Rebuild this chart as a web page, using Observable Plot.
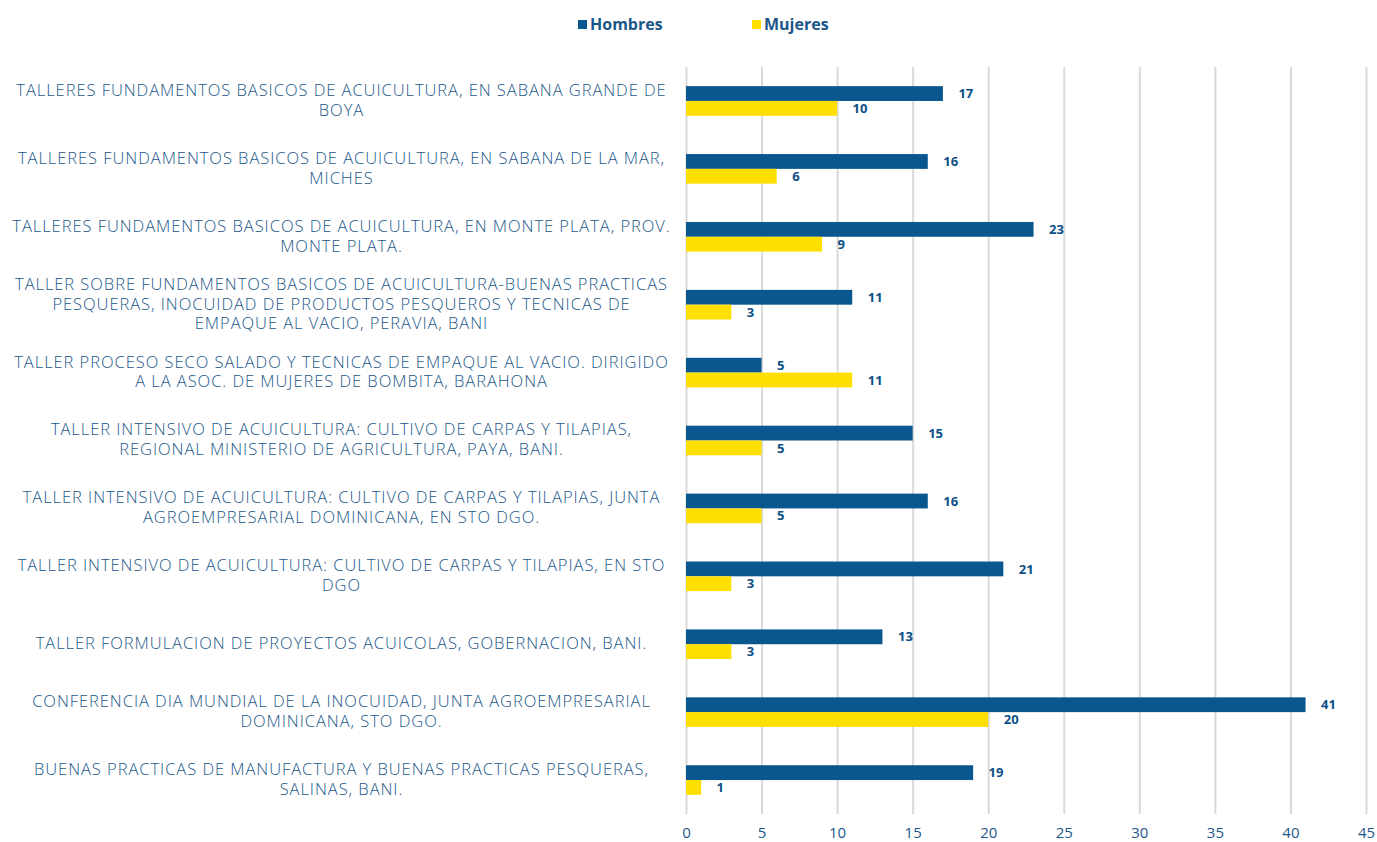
<!DOCTYPE html>
<html>
<head>
<meta charset="utf-8">
<script src="https://cdn.jsdelivr.net/npm/d3@7"></script>
<script src="https://cdn.jsdelivr.net/npm/@observablehq/plot@0.6"></script>
<style>
  html, body { margin: 0; padding: 0; background: #fff; }
  body { width: 1377px; height: 842px; overflow: hidden; font-family: "Open Sans", Lato, sans-serif; }
  #legend { position: relative; height: 45px; }
  .item { position: absolute; top: 13px; display: flex; align-items: center; font-weight: 700; font-size: 16px; color: #1b5789; white-space: nowrap; }
  .sw { width: 9px; height: 9px; margin-right: 3px; }
  #chart svg { display: block; }
</style>
</head>
<body>
<div id="legend"></div>
<div id="chart"></div>
<script>
const categories = [
  "TALLERES FUNDAMENTOS BASICOS DE ACUICULTURA, EN SABANA GRANDE DE\nBOYA",
  "TALLERES FUNDAMENTOS BASICOS DE ACUICULTURA, EN SABANA DE LA MAR,\nMICHES",
  "TALLERES FUNDAMENTOS BASICOS DE ACUICULTURA, EN MONTE PLATA, PROV.\nMONTE PLATA.",
  "TALLER SOBRE FUNDAMENTOS BASICOS DE ACUICULTURA-BUENAS PRACTICAS\nPESQUERAS, INOCUIDAD DE PRODUCTOS PESQUEROS Y TECNICAS DE\nEMPAQUE AL VACIO, PERAVIA, BANI",
  "TALLER PROCESO SECO SALADO Y TECNICAS DE EMPAQUE AL VACIO. DIRIGIDO\nA LA ASOC. DE MUJERES DE BOMBITA, BARAHONA",
  "TALLER INTENSIVO DE ACUICULTURA: CULTIVO DE CARPAS Y TILAPIAS,\nREGIONAL MINISTERIO DE AGRICULTURA, PAYA, BANI.",
  "TALLER INTENSIVO DE ACUICULTURA: CULTIVO DE CARPAS Y TILAPIAS, JUNTA\nAGROEMPRESARIAL DOMINICANA, EN STO DGO.",
  "TALLER INTENSIVO DE ACUICULTURA: CULTIVO DE CARPAS Y TILAPIAS, EN STO\nDGO",
  "TALLER FORMULACION DE PROYECTOS ACUICOLAS, GOBERNACION, BANI.",
  "CONFERENCIA DIA MUNDIAL DE LA INOCUIDAD, JUNTA AGROEMPRESARIAL\nDOMINICANA, STO DGO.",
  "BUENAS PRACTICAS DE MANUFACTURA Y BUENAS PRACTICAS PESQUERAS,\nSALINAS, BANI."
];
const seriesNames = ["Hombres", "Mujeres"];
const hombres = [17, 16, 23, 11, 5, 15, 16, 21, 13, 41, 19];
const mujeres = [10, 6, 9, 3, 11, 5, 5, 3, 3, 20, 1];
const xTicks = [0, 5, 10, 15, 20, 25, 30, 35, 40, 45];

const colors = {Hombres: "#0a568f", Mujeres: "#ffdf00"};
const textBlue = "#1b5789";

// legend
const legend = document.getElementById("legend");
const legendLeft = {Hombres: 578, Mujeres: 752};
for (const s of seriesNames) {
  const it = document.createElement("div");
  it.className = "item";
  it.style.left = legendLeft[s] + "px";
  it.innerHTML = `<span class="sw" style="background:${colors[s]}"></span>${s}`;
  legend.appendChild(it);
}

const rowsH = categories.map((c, i) => ({cat: c, value: hombres[i]}));
const rowsM = categories.map((c, i) => ({cat: c, value: mujeres[i]}));

const height = 797, marginTop = 22, marginBottom = 28;
const band = (height - marginTop - marginBottom) / categories.length;
const half = band / 2;
const barH = 14.8;

const chart = Plot.plot({
  width: 1377,
  height,
  marginLeft: 686,
  marginRight: 11,
  marginTop,
  marginBottom,
  style: {fontFamily: "'Open Sans', Lato, sans-serif", background: "#fff"},
  x: {domain: [0, 45]},
  y: {domain: categories, padding: 0, round: false, axis: null},
  marks: [
    Plot.gridX(xTicks, {stroke: "#d9d9d9", strokeOpacity: 1, strokeWidth: 2}),
    Plot.axisX({ticks: xTicks, tickSize: 0, tickPadding: 13, fontSize: 15, fill: textBlue, stroke: null, label: null}),
    Plot.barX(rowsH, {x: "value", y: "cat", fill: colors.Hombres, insetTop: half - barH, insetBottom: half}),
    Plot.barX(rowsM, {x: "value", y: "cat", fill: colors.Mujeres, insetTop: half, insetBottom: half - barH}),
    Plot.text(rowsH, {x: "value", y: "cat", text: d => String(d.value), dy: -barH / 2, dx: 15, textAnchor: "start", fontWeight: 700, fontSize: 13, fill: "#0b4f86"}),
    Plot.text(rowsM, {x: "value", y: "cat", text: d => String(d.value), dy: barH / 2, dx: 15, textAnchor: "start", fontWeight: 700, fontSize: 13, fill: "#0b4f86"}),
    Plot.text(categories, {y: d => d, text: d => d, frameAnchor: "left", dx: -345, dy: -2, textAnchor: "middle", lineAnchor: "middle", lineHeight: 1.2, fontSize: 16.5, fontWeight: 300, fill: textBlue})
  ]
});
// widen the category labels to the reference's letter spacing
const textGroups = chart.querySelectorAll("g[aria-label='text']");
textGroups[textGroups.length - 1].style.letterSpacing = "0.95px";
document.getElementById("chart").appendChild(chart);
</script>
</body>
</html>
